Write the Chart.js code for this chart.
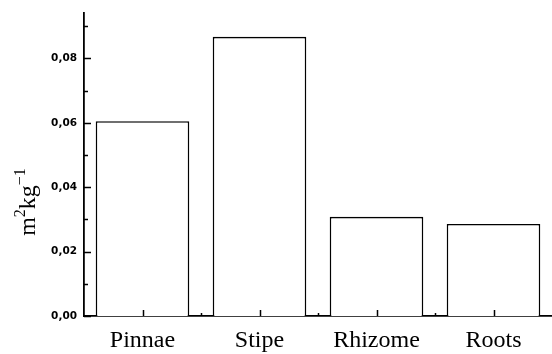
<!DOCTYPE html>
<html>
<head>
<meta charset="utf-8">
<script src="https://cdn.jsdelivr.net/npm/chart.js@4"></script>
<style>
  html, body { margin: 0; padding: 0; background: #fff; }
  canvas { display: block; }
</style>
</head>
<body>
<canvas id="c" width="552" height="354"></canvas>
<script>
// Specific surface per plant organ
const organs = ['Pinnae', 'Stipe', 'Rhizome', 'Roots'];
const surfaceValues = [0.0605, 0.0867, 0.0308, 0.0286];
const yTickValues = [0, 0.02, 0.04, 0.06, 0.08];
const yMinorValues = [0.01, 0.03, 0.05, 0.07, 0.09];
const yMax = 0.094;

// Inward tick marks and the rotated unit label
const axisDecor = {
  id: 'axisDecor',
  afterDraw(chart) {
    const ctx = chart.ctx;
    const x = chart.scales.x, y = chart.scales.y;
    const area = chart.chartArea;
    ctx.save();
    ctx.strokeStyle = '#000';
    ctx.lineWidth = 1.5;
    ctx.beginPath();
    yTickValues.forEach(v => {
      const py = Math.round(y.getPixelForValue(v)) + 0.5;
      ctx.moveTo(area.left, py); ctx.lineTo(area.left + 7, py);
    });
    yMinorValues.forEach(v => {
      const py = Math.round(y.getPixelForValue(v)) + 0.5;
      ctx.moveTo(area.left, py); ctx.lineTo(area.left + 4, py);
    });
    organs.forEach((_, i) => {
      const px = Math.round(x.getPixelForTick(i)) + 0.5;
      ctx.moveTo(px, area.bottom); ctx.lineTo(px, area.bottom - 6);
      if (i > 0) {
        const bx = Math.round((x.getPixelForTick(i) + x.getPixelForTick(i - 1)) / 2) + 0.5;
        ctx.moveTo(bx, area.bottom); ctx.lineTo(bx, area.bottom - 3);
      }
    });
    ctx.stroke();

    // unit label m²kg⁻¹, rotated
    ctx.translate(35, 202);
    ctx.rotate(-Math.PI / 2);
    ctx.fillStyle = '#000';
    ctx.textBaseline = 'alphabetic';
    ctx.textAlign = 'left';
    const big = '24px "Liberation Serif", "Times New Roman", serif';
    const small = '16px "Liberation Serif", "Times New Roman", serif';
    const parts = [['m', big, 0], ['2', small, -10], ['kg', big, 0], ['\u22121', small, -10]];
    let total = 0;
    parts.forEach(p => { ctx.font = p[1]; total += ctx.measureText(p[0]).width; });
    let cx = -total / 2;
    parts.forEach(p => {
      ctx.font = p[1];
      ctx.fillText(p[0], cx, p[2]);
      cx += ctx.measureText(p[0]).width;
    });
    ctx.restore();
  }
};

new Chart(document.getElementById('c'), {
  type: 'bar',
  data: {
    labels: organs,
    datasets: [{
      data: surfaceValues,
      backgroundColor: '#fff',
      borderColor: '#000',
      borderWidth: 1.6,
      barPercentage: 0.8,
      categoryPercentage: 1.0
    }]
  },
  options: {
    responsive: false,
    animation: false,
    devicePixelRatio: 1,
    layout: { padding: { top: 13, right: 0, left: 0, bottom: 0 } },
    plugins: { legend: { display: false }, tooltip: { enabled: false } },
    scales: {
      x: {
        grid: { display: false, drawTicks: false },
        border: { display: true, color: '#000', width: 1.8 },
        ticks: {
          color: '#000',
          padding: 10,
          maxRotation: 0,
          minRotation: 0,
          font: { family: '"Liberation Serif", "Times New Roman", serif', size: 24 }
        },
        afterFit(s) { s.height = 38; }
      },
      y: {
        min: 0,
        max: yMax,
        grid: { display: false, drawTicks: false },
        border: { display: true, color: '#000', width: 1.8 },
        afterBuildTicks(s) { s.ticks = yTickValues.map(v => ({ value: v })); },
        ticks: {
          color: '#000',
          padding: 7,
          font: { family: '"DejaVu Sans", sans-serif', size: 10.5, weight: 'bold' },
          callback: v => v.toFixed(2).replace('.', ',')
        },
        afterFit(s) { s.width = 84; }
      }
    }
  },
  plugins: [axisDecor]
});
</script>
</body>
</html>
